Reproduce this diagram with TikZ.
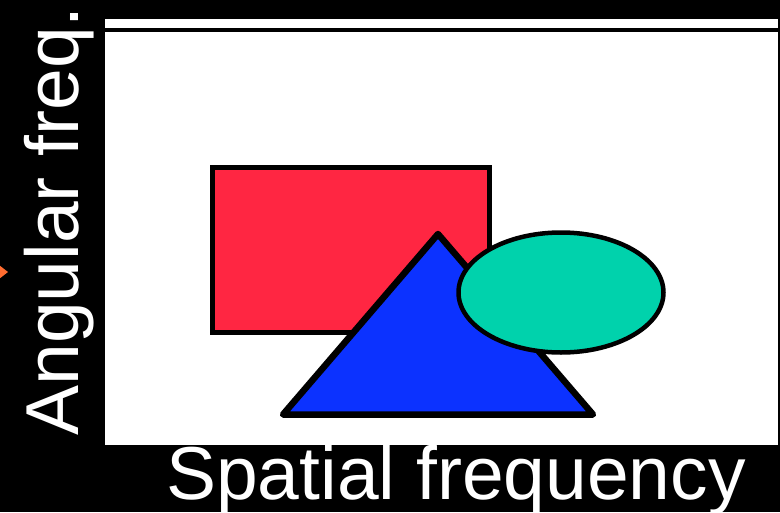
\documentclass[tikz,border=0pt]{standalone}
\usepackage{fontspec}
\setmainfont{Liberation Sans}
\usepackage{xcolor}
\usepackage{tikz}
\usetikzlibrary{arrows.meta,positioning}
\definecolor{boxred}{RGB}{255,38,66}
\definecolor{triblue}{RGB}{12,50,255}
\definecolor{ovalteal}{RGB}{0,210,172}
\definecolor{markorange}{RGB}{255,108,48}
\newcommand{\bigfont}{\fontsize{75}{82}\selectfont}

\begin{document}
\begin{tikzpicture}[x=1pt, y=-1pt, font=\bigfont]

% ==========================================
% Frame and background
% ==========================================
\fill[black] (0,0) rectangle (780,512);
\useasboundingbox (0,0) rectangle (780,512);

% White plotting area
\fill[white] (105,19) rectangle (778,445);
\draw[black, line width=4pt] (105,29.5) -- (778,29.5);

% Small orange marker on the left edge
\fill[markorange] (-1,265) -- (8,272) -- (-1,279) -- cycle;

% ==========================================
% Shapes
% ==========================================
% Rectangle
\draw[line width=4.5pt, fill=boxred] (212.5,167.5) rectangle (489.5,332.5);

% Triangle
\draw[line width=6.5pt, fill=triblue, line join=round] (438,234) -- (593,414.5) -- (283,414.5) -- cycle;

% Ellipse
\draw[line width=4.5pt, fill=ovalteal] (561,292.5) ellipse (102.5 and 60);

% ==========================================
% Axis labels
% ==========================================
\node[white, rotate=90, anchor=base, inner sep=0pt] (ylabel) at (78,221) {Angular freq.};
\node[white, anchor=base, inner sep=0pt] (xlabel) at (456,499) {Spatial frequency};

\end{tikzpicture}
\end{document}
